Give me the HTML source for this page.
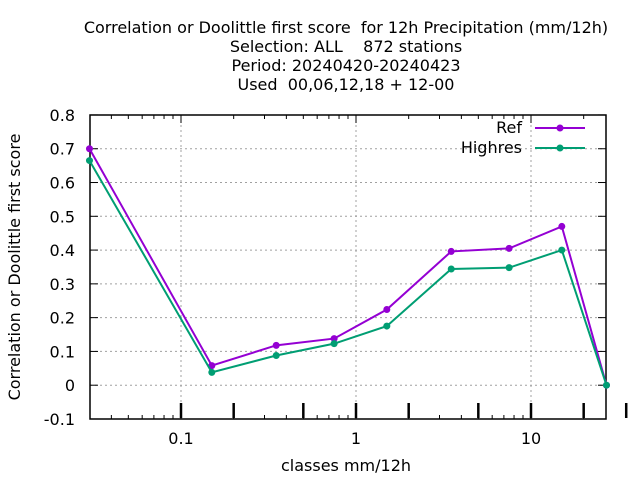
<!DOCTYPE html>
<html><head><meta charset="utf-8"><style>
body{margin:0;background:#fff}
svg text{font-family:"DejaVu Sans","Liberation Sans",sans-serif;fill:#000;white-space:pre}
</style></head><body>
<svg id="chart" width="640" height="480" xmlns="http://www.w3.org/2000/svg" xml:space="preserve">
<g font-size="16" text-anchor="middle">
<text x="346" y="33">Correlation or Doolittle first score  for 12h Precipitation (mm/12h)</text>
<text x="346" y="52">Selection: ALL    872 stations</text>
<text x="346" y="71">Period: 20240420-20240423</text>
<text x="346" y="90">Used  00,06,12,18 + 12-00</text>
</g>
<g id="grid"></g>
<g id="axes"></g>
<g id="series"></g>
<text font-size="16" text-anchor="middle" transform="translate(20,267) rotate(-90)">Correlation or Doolittle first score</text>
<text font-size="16" text-anchor="middle" x="346" y="471">classes mm/12h</text>
<g font-size="16" text-anchor="end">
<text x="522" y="133">Ref</text>
<text x="522" y="153">Highres</text>
<line x1="535" y1="128" x2="585" y2="128" stroke="#9400d3" stroke-width="2"/>
<line x1="535" y1="148" x2="585" y2="148" stroke="#009e73" stroke-width="2"/>
<circle cx="560" cy="128" r="3.5" fill="#9400d3"/>
<circle cx="560" cy="148" r="3.5" fill="#009e73"/>
</g>
</svg>
<script>
const classes=[0.03,0.15,0.35,0.75,1.5,3.5,7.5,15,27];
const refVals=[0.70,0.058,0.118,0.138,0.224,0.396,0.405,0.470,0.0];
const highresVals=[0.665,0.038,0.088,0.123,0.175,0.344,0.348,0.400,0.0];
const yTicks=[-0.1,0,0.1,0.2,0.3,0.4,0.5,0.6,0.7,0.8];
const xTicks=[0.1,1,10];
const boldTicks=[0.1,0.2,0.5,1,2,5,10,20,35];
const NS="http://www.w3.org/2000/svg";
const L=90,R=606,T=115,B=419;
const sx=v=>181+(Math.log10(v)+1)*175;
const sy=v=>385.2-v*337.8;
function mk(tag,attrs,parent){const e=document.createElementNS(NS,tag);for(const k in attrs)e.setAttribute(k,attrs[k]);parent.appendChild(e);return e;}
const grid=document.getElementById('grid'),axes=document.getElementById('axes'),series=document.getElementById('series');
yTicks.forEach(v=>{const y=sy(v);
 if(v>-0.1&&v<0.8){const g=mk('line',{x1:L,x2:R,y1:y,y2:y,stroke:'#a0a0a0','stroke-dasharray':'2,3'},grid);}
 mk('line',{x1:L,x2:L+8,y1:y,y2:y,stroke:'#000'},axes);mk('line',{x1:R,x2:R-8,y1:y,y2:y,stroke:'#000'},axes);
 const t=mk('text',{x:L-15,y:y+6,'font-size':16,'text-anchor':'end'},axes);t.textContent=(Math.round(v*10)/10).toString();
 });
xTicks.forEach(v=>{const x=sx(v);
 const g=mk('line',{x1:x,x2:x,y1:T,y2:B,stroke:'#a0a0a0','stroke-dasharray':'2,3'},grid);
 const t=mk('text',{x:x,y:B+25,'font-size':16,'text-anchor':'middle'},axes);t.textContent=v.toString();
 });
for(let d=0.01;d<=10;d*=10){for(let m=1;m<=9;m++){const v=d*m;const x=sx(v);if(x<L-0.5||x>R+0.5)continue;
 mk('line',{x1:x,x2:x,y1:T,y2:T+(m==1?8:4),stroke:'#000'},axes);mk('line',{x1:x,x2:x,y1:B,y2:B-(m==1?8:4),stroke:'#000'},axes);}}
boldTicks.forEach(v=>{const x=sx(v);mk('line',{x1:x,x2:x,y1:403,y2:418,stroke:'#000','stroke-width':2.5},axes);});
mk('rect',{x:L,y:T,width:R-L,height:B-T,fill:'none',stroke:'#000','stroke-width':1.5},axes);
function draw(vals,color,name){
 const p=mk('polyline',{points:classes.map((c,i)=>sx(c)+','+sy(vals[i])).join(' '),fill:'none',stroke:color,'stroke-width':2},series);
 
 classes.forEach((c,i)=>{const m=mk('circle',{cx:sx(c),cy:sy(vals[i]),r:3.5,fill:color},series);
 });}
draw(refVals,'#9400d3','ref');
draw(highresVals,'#009e73','highres');
</script>
</body></html>
